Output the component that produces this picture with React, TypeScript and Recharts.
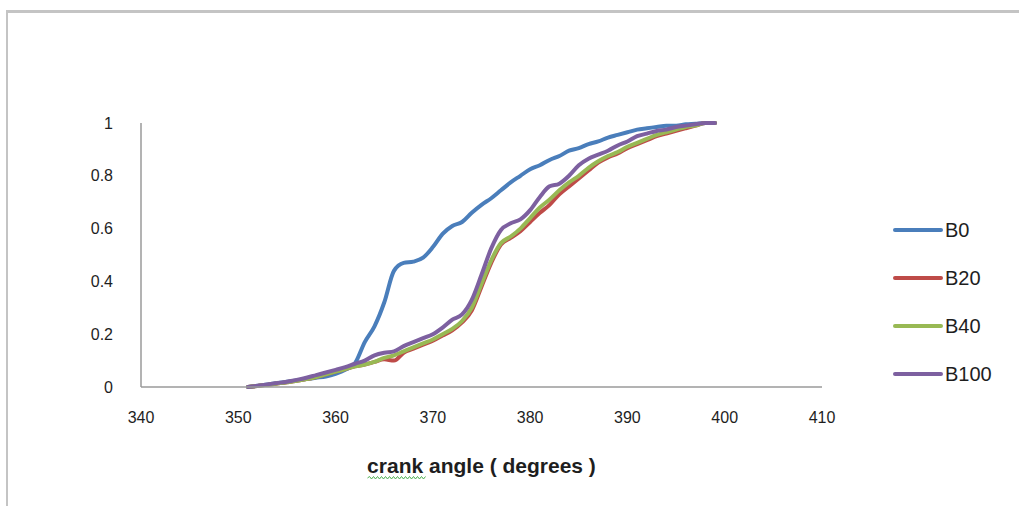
import { Label, Line, LineChart, XAxis, YAxis } from "recharts";

// crank angle (deg) and mass fraction burned per blend
const angles = [
  351, 352, 353, 354, 355, 356, 357, 358, 359, 360, 361, 362, 363, 364, 365, 366, 367, 368, 369, 370,
  371, 372, 373, 374, 375, 376, 377, 378, 379, 380, 381, 382, 383, 384, 385, 386, 387, 388, 389, 390,
  391, 392, 393, 394, 395, 396, 397, 398, 399,
];

const b0 = [
  0, 0.005, 0.01, 0.015, 0.02, 0.025, 0.03, 0.035, 0.04, 0.05, 0.065, 0.09, 0.17, 0.23, 0.32, 0.44, 0.47, 0.475, 0.49, 0.53,
  0.58, 0.61, 0.625, 0.66, 0.69, 0.715, 0.745, 0.775, 0.8, 0.825, 0.84, 0.86, 0.875, 0.895, 0.905, 0.92, 0.93, 0.945, 0.955, 0.965,
  0.975, 0.98, 0.985, 0.99, 0.99, 0.995, 0.997, 1, 1,
];

const b20 = [
  0, 0.004, 0.008, 0.013, 0.018, 0.024, 0.03, 0.038, 0.048, 0.058, 0.068, 0.078, 0.085, 0.095, 0.105, 0.1, 0.13, 0.145, 0.16, 0.175,
  0.195, 0.215, 0.245, 0.29, 0.38, 0.47, 0.54, 0.565, 0.59, 0.625, 0.66, 0.69, 0.73, 0.76, 0.79, 0.82, 0.85, 0.87, 0.885, 0.905,
  0.92, 0.935, 0.95, 0.96, 0.97, 0.98, 0.99, 1, 1,
];

const b40 = [
  0, 0.004, 0.008, 0.013, 0.018, 0.024, 0.03, 0.038, 0.048, 0.058, 0.068, 0.078, 0.085, 0.095, 0.11, 0.12, 0.135, 0.15, 0.165, 0.18,
  0.2, 0.22, 0.25, 0.3, 0.39, 0.48, 0.545, 0.57, 0.6, 0.64, 0.68, 0.71, 0.745, 0.775, 0.8, 0.83, 0.855, 0.875, 0.89, 0.91,
  0.925, 0.94, 0.955, 0.965, 0.975, 0.985, 0.99, 1, 1,
];

const b100 = [
  0, 0.005, 0.01, 0.015, 0.02, 0.027, 0.035, 0.045, 0.055, 0.065, 0.075, 0.088, 0.1, 0.12, 0.13, 0.135, 0.155, 0.17, 0.185, 0.2,
  0.225, 0.255, 0.275, 0.33, 0.425, 0.525, 0.595, 0.62, 0.635, 0.67, 0.72, 0.76, 0.77, 0.8, 0.84, 0.865, 0.88, 0.895, 0.915, 0.93,
  0.95, 0.96, 0.97, 0.975, 0.985, 0.99, 0.995, 1, 1,
];

const xTicks = [340, 350, 360, 370, 380, 390, 400, 410];
const yTicks = [0, 0.2, 0.4, 0.6, 0.8, 1];

const series = [
  { key: "B0", color: "#4a7ebb" },
  { key: "B20", color: "#be4b48" },
  { key: "B40", color: "#98b954" },
  { key: "B100", color: "#7d60a0" },
];

const rows = angles.map((a, i) => ({ angle: a, B0: b0[i], B20: b20[i], B40: b40[i], B100: b100[i] }));

const font = "'Liberation Sans', Arial, sans-serif";
const axisColor = "#9a9a9a";

// the spell-check squiggle under "crank"
function squiggle(x0: number, x1: number, y: number) {
  let d = `M${x0},${y}`;
  let up = true;
  for (let x = x0 + 2; x <= x1; x += 2) {
    d += ` L${x},${up ? y - 1.5 : y + 1}`;
    up = !up;
  }
  return d;
}

function AxisTitle(props: any) {
  const vb = props.viewBox || {};
  const cx = vb.width ? vb.x + vb.width / 2 : 481;
  const by = vb.height ? vb.y + vb.height - 14 : 473;
  return (
    <g>
      <text x={cx} y={by} textAnchor="middle" fill="#1e1e1e" fontSize={21} fontWeight="bold" fontFamily={font}>
        crank angle  ( degrees )
      </text>
      <path d={squiggle(cx - 114, cx - 56, by + 5)} fill="none" stroke="#4caf50" strokeWidth={1} />
    </g>
  );
}

function LegendBox() {
  return (
    <div
      style={{ position: "absolute", left: 893, top: 206, fontFamily: font, fontSize: 20, color: "#1e1e1e" }}
    >
      {series.map((s) => (
        <div key={s.key} style={{ display: "flex", alignItems: "center", height: 48 }}>
          <span
            style={{ display: "inline-block", width: 50, height: 4, borderRadius: 2, background: s.color }}
          />
          <span style={{ marginLeft: 2 }}>{s.key}</span>
        </div>
      ))}
    </div>
  );
}

export default function App() {
  return (
    <div style={{ position: "absolute", left: 0, top: 0, width: 1019, height: 506, background: "#fff" }}>
      <LineChart
        width={1019}
        height={506}
        data={rows}
        margin={{ top: 123, right: 197, bottom: 19, left: 80 }}
      >
        <XAxis
          dataKey="angle"
          type="number"
          domain={[340, 410]}
          ticks={xTicks}
          height={100}
          stroke={axisColor}
          strokeWidth={1.5}
          tickLine={false}
          tickMargin={19}
          tick={{ fill: "#1e1e1e", fontSize: 16, fontFamily: font }}
        >
          <Label position="insideBottom" content={(p: any) => <AxisTitle {...p} />} />
        </XAxis>
        <YAxis
          type="number"
          domain={[0, 1]}
          ticks={yTicks}
          width={61}
          stroke={axisColor}
          strokeWidth={1.5}
          tickLine={false}
          tickMargin={22}
          tick={{ fill: "#1e1e1e", fontSize: 16, fontFamily: font }}
        />
        {series.map((s) => (
          <Line
            key={s.key}
            type="monotone"
            dataKey={s.key}
            stroke={s.color}
            strokeWidth={4}
            strokeLinecap="round"
            strokeLinejoin="round"
            dot={false}
            isAnimationActive={false}
          />
        ))}
      </LineChart>
      <LegendBox />
      <div
        style={{
          position: "absolute",
          left: 6,
          top: 10,
          right: 0,
          bottom: 0,
          borderTop: "3px solid #c4c4c4",
          borderLeft: "2px solid #c4c4c4",
          pointerEvents: "none",
        }}
      />
    </div>
  );
}
